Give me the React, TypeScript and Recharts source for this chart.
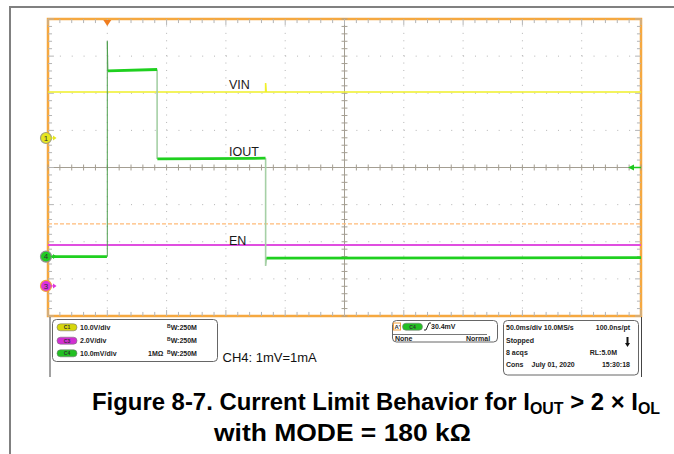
import React from 'react';
import { LineChart, Line, XAxis, YAxis, ReferenceLine, ReferenceArea, ReferenceDot } from 'recharts';

// ---- axes (oscilloscope screen: 10 x 8 divisions) ----
const timeDomain: [number, number] = [-50, 450]; // ms, 50 ms/div, trigger at 1st div
const divDomain: [number, number] = [-4, 4]; // screen divisions
const vinDomain: [number, number] = [-47.95, 32.05]; // CH1, 10 V/div
const enDomain: [number, number] = [-1.62, 14.38]; // CH3, 2 V/div
const ioutDomain: [number, number] = [-16, 64]; // CH4, 10 mV/div = 10 mA/div

// ---- traces ----
const vinData = [
  { t: -50, v: 12.4 },
  { t: 133.5, v: 12.4 },
  { t: 133.5, v: 14.8 },
  { t: 134, v: 12.4 },
  { t: 450, v: 12.4 },
];
const enData = [
  { t: -50, v: 2.2 },
  { t: 450, v: 2.2 },
];
const ioutLevels = [
  { t: -50, v: 0 },
  { t: -0.3, v: 0 },
  { t: -0.2, v: null },
  { t: 0.5, v: 50.0 },
  { t: 42, v: 50.4 },
  { t: 42.1, v: null },
  { t: 42.2, v: 26.3 },
  { t: 133.4, v: 26.5 },
  { t: 133.5, v: null },
  { t: 134.2, v: -0.4 },
  { t: 450, v: -0.3 },
];
const ioutRiseEdge = [
  { t: 0, v: 0 },
  { t: 0, v: 58 },
  { t: 0.5, v: 50 },
];
const ioutFallEdges = [
  { t: 42, v: 50.4 },
  { t: 42, v: 26.3 },
  { t: 42.1, v: null },
  { t: 133.5, v: 26.5 },
  { t: 133.5, v: -2.5 },
  { t: 134.2, v: -0.4 },
];
const triggerLevelLine = 8.8; // orange dashed line, CH4 scale

// ---- graticule ----
const gridTimes = [0, 50, 100, 150, 250, 300, 350, 400];
const gridDivs = [-3, -2, -1, 1, 2, 3];
const centerTime = 200;
const centerDiv = 0;
const minorTimes = Array.from({ length: 51 }, (_, i) => -50 + i * 10);
const minorDivs = Array.from({ length: 41 }, (_, i) => Math.round((-4 + i * 0.2) * 10) / 10);

const FONT = '"Liberation Sans", Arial, Helvetica, sans-serif';

const chanMarker = (fill: string, ring: string, label: string) => (props: any) => {
  const { cx, cy } = props;
  const x = cx - 2;
  return (
    <g>
      <circle cx={x} cy={cy} r={5.5} fill={fill} stroke={ring} strokeWidth={1.2} />
      <text x={x} y={cy + 2.8} fontSize={8} textAnchor="middle" fill="#333" fontFamily={FONT}>
        {label}
      </text>
      <line x1={x + 5} x2={x + 8} y1={cy} y2={cy} stroke={fill} strokeWidth={1} />
      <path d={`M${x + 7},${cy - 2.5} L${x + 10.5},${cy} L${x + 7},${cy + 2.5} Z`} fill={fill} />
    </g>
  );
};

const trigMarker = (props: any) => {
  const { cx, cy } = props;
  return <path d={`M${cx - 4},${cy + 1} L${cx + 4},${cy + 1} L${cx},${cy + 7} Z`} fill="#f07d1e" />;
};

const levelArrow = (props: any) => {
  const { cx, cy } = props;
  return (
    <g>
      <line x1={cx - 9} x2={cx} y1={cy} y2={cy} stroke="#1ec81e" strokeWidth={1.5} />
      <path d={`M${cx - 13},${cy} L${cx - 7},${cy - 3} L${cx - 7},${cy + 3} Z`} fill="#1ec81e" />
    </g>
  );
};

const textLabel = (txt: string, dy: number) => (props: any) => {
  const { cx, cy } = props;
  return (
    <text x={cx} y={cy + dy} fontSize={12.5} fill="#1a1a1a" fontFamily={FONT}>
      {txt}
    </text>
  );
};

const Pill = ({ x, y, fill, text }: { x: number; y: number; fill: string; text: string }) => (
  <g>
    <rect x={x} y={y - 3.5} width={20} height={7} rx={3.5} fill={fill} stroke="#777" strokeWidth={0.6} />
    <text x={x + 10} y={y + 1.8} fontSize={5} textAnchor="middle" fill="#333" fontWeight="bold" fontFamily={FONT}>
      {text}
    </text>
  </g>
);

const Overlay = () => {
  const sm = { fontSize: 7, fontWeight: 'bold' as const, fill: '#222', fontFamily: FONT };
  return (
    <svg width={674} height={454} style={{ position: 'absolute', left: 0, top: 0, pointerEvents: 'none' }}>
      {/* outer frame */}
      <line x1={9} x2={674} y1={7} y2={7} stroke="#808080" strokeWidth={2} />
      <line x1={10} x2={10} y1={6} y2={454} stroke="#808080" strokeWidth={2} />
      <line x1={50} x2={50} y1={317} y2={377} stroke="#444" strokeWidth={1} />
      <line x1={641.5} x2={641.5} y1={317} y2={377} stroke="#444" strokeWidth={1} />

      {/* channel panel */}
      <rect x={52.5} y={319.5} width={165} height={42} rx={4} fill="#fff" stroke="#666" strokeWidth={1} />
      <Pill x={57} y={327.3} fill="#d6d60a" text="C1" />
      <Pill x={57} y={340.7} fill="#d22fd2" text="C3" />
      <Pill x={57} y={353.3} fill="#22c022" text="C4" />
      <text x={80} y={329.8} {...sm}>10.0V/div</text>
      <text x={80} y={343.2} {...sm}>2.0V/div</text>
      <text x={80} y={355.8} {...sm}>10.0mV/div</text>
      <text x={148} y={355.8} {...sm}>1MΩ</text>
      {[329.8, 343.2, 355.8].map((y) => (
        <text key={y} x={167} y={y} {...sm}>
          <tspan fontSize={5} dy={-2}>B</tspan>
          <tspan dy={2}>W:250M</tspan>
        </text>
      ))}
      <text x={222.5} y={361.5} fontSize={13} fill="#111" fontFamily={FONT}>CH4: 1mV=1mA</text>

      {/* trigger panel */}
      <rect x={392.5} y={320.5} width={105} height={21.5} rx={4} fill="#fff" stroke="#666" strokeWidth={1} />
      <rect x={393.5} y={323} width={7} height={7} fill="#fff" stroke="#f0a040" strokeWidth={1} />
      <text x={394.5} y={329} fontSize={6} fontWeight="bold" fill="#333" fontFamily={FONT}>A'</text>
      <Pill x={402.5} y={326.7} fill="#22c022" text="C4" />
      <path d="M424,330 L426,330 L429,323 L431,323" stroke="#222" strokeWidth={1} fill="none" />
      <text x={431} y={329.2} {...sm}>30.4mV</text>
      <line x1={393} x2={487} y1={334.5} y2={334.5} stroke="#555" strokeWidth={0.8} />
      <text x={395} y={340.5} {...sm}>None</text>
      <text x={466} y={340.5} {...sm}>Normal</text>

      {/* timebase panel */}
      <rect x={503.5} y={320.5} width={135} height={54.5} rx={4} fill="#fff" stroke="#666" strokeWidth={1} />
      <text x={506} y={329.8} {...sm}>50.0ms/div 10.0MS/s</text>
      <text x={630} y={329.8} textAnchor="end" {...sm}>100.0ns/pt</text>
      <text x={506} y={343.2} {...sm}>Stopped</text>
      <path d="M626.5,337 L628.5,337 L628.5,343 L630,343 L627.5,347 L625,343 L626.5,343 Z" fill="#111" />
      <text x={506} y={355.2} {...sm}>8 acqs</text>
      <text x={617} y={355.2} textAnchor="end" {...sm}>RL:5.0M</text>
      <text x={506} y={366.8} {...sm}>Cons</text>
      <text x={531.5} y={366.8} {...sm}>July 01, 2020</text>
      <text x={630} y={366.8} textAnchor="end" {...sm}>15:30:18</text>

      {/* caption */}
      <text x={92} y={410} fontSize={24} fontWeight="bold" fill="#000" fontFamily={FONT} textLength={568} lengthAdjust="spacingAndGlyphs">
        Figure 8-7. Current Limit Behavior for I
        <tspan fontSize={16} dy={4}>OUT</tspan>
        <tspan dy={-4}> &gt; 2 × I</tspan>
        <tspan fontSize={16} dy={4}>OL</tspan>
      </text>
      <text x={214} y={441} fontSize={24} fontWeight="bold" fill="#000" fontFamily={FONT} textLength={257} lengthAdjust="spacingAndGlyphs">
        with MODE = 180 kΩ
      </text>
    </svg>
  );
};

export default function App() {
  const gridStroke = '#b4b4b4';
  const tickStroke = '#a49e92';
  return (
    <div style={{ position: 'absolute', left: 0, top: 0, width: 674, height: 454, background: '#fff' }}>
      <div style={{ position: 'absolute', left: 0, top: 0 }}>
        <LineChart width={674} height={454} margin={{ top: 19, right: 33, bottom: 138, left: 48 }}>
          <XAxis dataKey="t" type="number" domain={timeDomain} allowDataOverflow hide />
          <YAxis yAxisId="div" type="number" domain={divDomain} allowDataOverflow hide />
          <YAxis yAxisId="vin" type="number" domain={vinDomain} allowDataOverflow hide />
          <YAxis yAxisId="en" type="number" domain={enDomain} allowDataOverflow hide />
          <YAxis yAxisId="iout" type="number" domain={ioutDomain} allowDataOverflow hide />

          {/* dotted division lines */}
          {gridTimes.map((t) => (
            <ReferenceLine key={`gx${t}`} x={t} yAxisId="div" stroke={gridStroke} strokeDasharray="1 6.425" />
          ))}
          {gridDivs.map((d) => (
            <ReferenceLine key={`gy${d}`} y={d} yAxisId="div" stroke={gridStroke} strokeDasharray="1 10.86" />
          ))}
          {/* center axes */}
          <ReferenceLine x={centerTime} yAxisId="div" stroke={tickStroke} strokeWidth={1} />
          <ReferenceLine y={centerDiv} yAxisId="div" stroke={tickStroke} strokeWidth={1} />
          {minorTimes.map((t) => (
            <ReferenceLine
              key={`ct${t}`}
              yAxisId="div"
              stroke={tickStroke}
              segment={[{ x: t, y: -0.08 }, { x: t, y: 0.08 }]}
            />
          ))}
          {minorDivs.map((d) => (
            <ReferenceLine
              key={`cd${d}`}
              yAxisId="div"
              stroke={tickStroke}
              segment={[{ x: centerTime - 2.5, y: d }, { x: centerTime + 2.5, y: d }]}
            />
          ))}
          {/* border ticks */}
          {minorTimes.map((t) => (
            <ReferenceLine
              key={`tt${t}`}
              yAxisId="div"
              stroke={gridStroke}
              segment={[{ x: t, y: 4 }, { x: t, y: (t + 50) % 50 === 0 ? 3.84 : 3.89 }]}
            />
          ))}
          {minorTimes.map((t) => (
            <ReferenceLine
              key={`bt${t}`}
              yAxisId="div"
              stroke={gridStroke}
              segment={[{ x: t, y: -4 }, { x: t, y: (t + 50) % 50 === 0 ? -3.84 : -3.89 }]}
            />
          ))}
          {minorDivs.map((d) => (
            <ReferenceLine
              key={`lt${d}`}
              yAxisId="div"
              stroke={gridStroke}
              segment={[{ x: -50, y: d }, { x: Number.isInteger(d) ? -45 : -46.6, y: d }]}
            />
          ))}
          {minorDivs.map((d) => (
            <ReferenceLine
              key={`rt${d}`}
              yAxisId="div"
              stroke={gridStroke}
              segment={[{ x: 450, y: d }, { x: Number.isInteger(d) ? 445 : 446.6, y: d }]}
            />
          ))}

          <ReferenceLine y={triggerLevelLine} yAxisId="iout" stroke="#ffbb78" strokeWidth={1.2} strokeDasharray="4 2" />

          {/* traces */}
          <Line data={vinData} dataKey="v" yAxisId="vin" type="linear" stroke="#f0f02a" strokeWidth={1.6} dot={false} isAnimationActive={false} />
          <Line data={enData} dataKey="v" yAxisId="en" type="linear" stroke="#e04ee0" strokeWidth={2} dot={false} isAnimationActive={false} />
          <Line data={ioutRiseEdge} dataKey="v" yAxisId="iout" type="linear" stroke="#4f9f4f" strokeWidth={1} dot={false} isAnimationActive={false} />
          <Line data={ioutFallEdges} dataKey="v" yAxisId="iout" type="linear" stroke="#a6d0a6" strokeWidth={1.6} dot={false} isAnimationActive={false} />
          <Line data={ioutLevels} dataKey="v" yAxisId="iout" type="linear" stroke="#1fd01f" strokeWidth={2.8} dot={false} isAnimationActive={false} />

          {/* labels */}
          <ReferenceDot x={102.6} y={12.4} yAxisId="vin" r={0} shape={textLabel('VIN', -3)} />
          <ReferenceDot x={102.6} y={26.3} yAxisId="iout" r={0} shape={textLabel('IOUT', -3)} />
          <ReferenceDot x={102.6} y={2.2} yAxisId="en" r={0} shape={textLabel('EN', 0)} />

          {/* screen border */}
          <ReferenceArea x1={-50} x2={450} y1={-4} y2={4} yAxisId="div" fill="none" fillOpacity={0} stroke="#f5a840" strokeWidth={2.5} />

          {/* markers */}
          <ReferenceDot x={0} y={4} yAxisId="div" r={0} shape={trigMarker} />
          <ReferenceDot x={450} y={0} yAxisId="div" r={0} shape={levelArrow} />
          <ReferenceDot x={-50} y={0} yAxisId="vin" r={0} shape={chanMarker('#e6e61e', '#a0a080', '1')} />
          <ReferenceDot x={-50} y={0} yAxisId="iout" r={0} shape={chanMarker('#22cc22', '#909090', '4')} />
          <ReferenceDot x={-50} y={0} yAxisId="en" r={0} shape={chanMarker('#dd33dd', '#f0a040', '3')} />
        </LineChart>
      </div>
      <Overlay />
    </div>
  );
}
